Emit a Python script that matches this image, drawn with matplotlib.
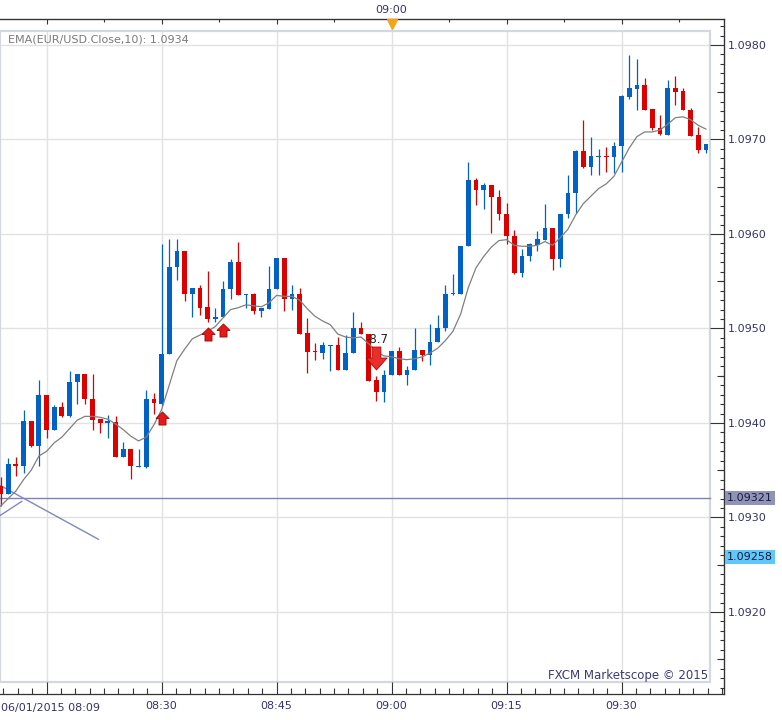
import numpy as np
import matplotlib
matplotlib.use('Agg')
import matplotlib.pyplot as plt
import matplotlib.transforms as mtransforms
from matplotlib.patches import Rectangle
from matplotlib.path import Path
from matplotlib.ticker import MultipleLocator, NullFormatter, StrMethodFormatter

# EUR/USD one-minute candles, 06/01/2015 08:09 .. 09:41 (x = minutes after 08:00)
first_minute = 9

opens = [1.09333, 1.09325, 1.09357, 1.09354, 1.09402, 1.09376, 1.09430, 1.09393, 1.09417, 1.09407,
         1.09443, 1.09452, 1.09425, 1.09404, 1.09400, 1.09401, 1.09364, 1.09372, 1.09353, 1.09353,
         1.09425, 1.09420, 1.09473, 1.09565, 1.09582, 1.09536, 1.09543, 1.09523, 1.09510, 1.09512,
         1.09542, 1.09570, 1.09535, 1.09537, 1.09518, 1.09521, 1.09542, 1.09575, 1.09531, 1.09537,
         1.09495, 1.09476, 1.09474, 1.09481, 1.09483, 1.09456, 1.09474, 1.09500, 1.09494, 1.09445,
         1.09433, 1.09451, 1.09476, 1.09451, 1.09456, 1.09477, 1.09472, 1.09486, 1.09500, 1.09536,
         1.09537, 1.09587, 1.09657, 1.09647, 1.09652, 1.09639, 1.09621, 1.09598, 1.09559, 1.09577,
         1.09588, 1.09594, 1.09606, 1.09574, 1.09621, 1.09643, 1.09688, 1.09671, 1.09681, 1.09683,
         1.09681, 1.09693, 1.09745, 1.09753, 1.09758, 1.09732, 1.09712, 1.09705, 1.09754, 1.09751,
         1.09731, 1.09705, 1.09689]
highs = [1.09343, 1.09363, 1.09364, 1.09414, 1.09402, 1.09446, 1.09430, 1.09419, 1.09422, 1.09455,
         1.09452, 1.09452, 1.09452, 1.09404, 1.09408, 1.09407, 1.09380, 1.09372, 1.09372, 1.09435,
         1.09432, 1.09589, 1.09595, 1.09595, 1.09582, 1.09543, 1.09546, 1.09561, 1.09522, 1.09550,
         1.09573, 1.09592, 1.09537, 1.09538, 1.09522, 1.09566, 1.09575, 1.09575, 1.09546, 1.09543,
         1.09511, 1.09485, 1.09486, 1.09483, 1.09491, 1.09493, 1.09517, 1.09507, 1.09494, 1.09450,
         1.09456, 1.09476, 1.09480, 1.09460, 1.09501, 1.09477, 1.09505, 1.09514, 1.09546, 1.09558,
         1.09587, 1.09676, 1.09659, 1.09654, 1.09652, 1.09647, 1.09633, 1.09604, 1.09584, 1.09590,
         1.09603, 1.09632, 1.09606, 1.09621, 1.09662, 1.09689, 1.09721, 1.09703, 1.09690, 1.09692,
         1.09697, 1.09747, 1.09789, 1.09785, 1.09765, 1.09732, 1.09726, 1.09763, 1.09767, 1.09754,
         1.09733, 1.09713, 1.09695]
lows = [1.09312, 1.09325, 1.09344, 1.09347, 1.09375, 1.09354, 1.09384, 1.09393, 1.09406, 1.09406,
        1.09420, 1.09420, 1.09393, 1.09389, 1.09384, 1.09364, 1.09364, 1.09341, 1.09353, 1.09352,
        1.09410, 1.09418, 1.09473, 1.09551, 1.09529, 1.09512, 1.09514, 1.09507, 1.09507, 1.09512,
        1.09531, 1.09535, 1.09522, 1.09515, 1.09512, 1.09521, 1.09542, 1.09518, 1.09520, 1.09494,
        1.09453, 1.09467, 1.09468, 1.09455, 1.09456, 1.09456, 1.09474, 1.09494, 1.09444, 1.09423,
        1.09422, 1.09451, 1.09451, 1.09440, 1.09456, 1.09466, 1.09461, 1.09486, 1.09497, 1.09535,
        1.09537, 1.09587, 1.09631, 1.09626, 1.09601, 1.09615, 1.09589, 1.09558, 1.09554, 1.09571,
        1.09582, 1.09594, 1.09562, 1.09565, 1.09617, 1.09622, 1.09670, 1.09662, 1.09662, 1.09666,
        1.09665, 1.09666, 1.09743, 1.09731, 1.09731, 1.09710, 1.09705, 1.09705, 1.09736, 1.09731,
        1.09704, 1.09686, 1.09686]
closes = [1.09325, 1.09357, 1.09354, 1.09402, 1.09376, 1.09430, 1.09393, 1.09417, 1.09407, 1.09443,
          1.09452, 1.09425, 1.09403, 1.09400, 1.09402, 1.09364, 1.09372, 1.09354, 1.09354, 1.09425,
          1.09421, 1.09473, 1.09565, 1.09582, 1.09536, 1.09543, 1.09522, 1.09510, 1.09512, 1.09542,
          1.09570, 1.09535, 1.09537, 1.09518, 1.09522, 1.09542, 1.09575, 1.09531, 1.09537, 1.09494,
          1.09475, 1.09475, 1.09483, 1.09483, 1.09456, 1.09474, 1.09500, 1.09494, 1.09444, 1.09433,
          1.09451, 1.09476, 1.09451, 1.09456, 1.09477, 1.09472, 1.09486, 1.09500, 1.09537, 1.09537,
          1.09587, 1.09657, 1.09647, 1.09652, 1.09639, 1.09621, 1.09598, 1.09559, 1.09577, 1.09589,
          1.09595, 1.09606, 1.09574, 1.09621, 1.09643, 1.09688, 1.09671, 1.09683, 1.09683, 1.09681,
          1.09693, 1.09746, 1.09755, 1.09758, 1.09731, 1.09712, 1.09706, 1.09754, 1.09750, 1.09731,
          1.09704, 1.09689, 1.09695]
ema10 = [1.09312, 1.09320, 1.09328, 1.09340, 1.09350, 1.09365, 1.09370, 1.09379, 1.09385, 1.09394,
         1.09403, 1.09407, 1.09407, 1.09406, 1.09404, 1.09399, 1.09393, 1.09386, 1.09381, 1.09385,
         1.09398, 1.09414, 1.09440, 1.09466, 1.09478, 1.09489, 1.09493, 1.09497, 1.09502, 1.09511,
         1.09520, 1.09522, 1.09525, 1.09524, 1.09523, 1.09527, 1.09535, 1.09534, 1.09534, 1.09530,
         1.09521, 1.09513, 1.09508, 1.09504, 1.09494, 1.09491, 1.09490, 1.09491, 1.09484, 1.09476,
         1.09471, 1.09470, 1.09468, 1.09467, 1.09468, 1.09470, 1.09474, 1.09479, 1.09487, 1.09497,
         1.09515, 1.09543, 1.09564, 1.09576, 1.09586, 1.09593, 1.09594, 1.09588, 1.09587, 1.09587,
         1.09588, 1.09592, 1.09588, 1.09596, 1.09605, 1.09620, 1.09632, 1.09640, 1.09648, 1.09653,
         1.09661, 1.09676, 1.09691, 1.09703, 1.09708, 1.09708, 1.09710, 1.09716, 1.09723, 1.09724,
         1.09721, 1.09715, 1.09711]

# signals
buy_minutes = [30, 36, 38]
buy_prices = [1.09405, 1.09494, 1.09498]
sell_minutes = [58]
sell_prices = [1.09469]
sell_text = '-8.7'
sell_text_price = 1.09488

# trend lines drawn on the chart
trend_a_minutes = [8.93, 11.76]
trend_a_prices = [1.09302, 1.09317]
trend_b_minutes = [8.93, 21.75]
trend_b_prices = [1.09334, 1.09277]

bid_price = 1.09321
ask_price = 1.09258
cursor_minute = 60

grid_minutes = [15, 30, 45, 60, 75, 90]
bottom_labels = ['', '08:30', '08:45', '09:00', '09:15', '09:30']
top_labels = ['', '', '', '09:00', '', '']
price_ticks = [1.0920, 1.0930, 1.0940, 1.0950, 1.0960, 1.0970, 1.0980]
half_ticks = [1.0915, 1.0925, 1.0935, 1.0945, 1.0955, 1.0965, 1.0975]

red = '#dc0000'
blue = '#0062c4'
label_color = '#33336e'
axis_color = '#333333'

opens = np.array(opens)
closes = np.array(closes)
minutes = first_minute + np.arange(len(opens))

fig = plt.figure(figsize=(7.82, 7.2), dpi=100)
ax = fig.add_axes([0.0, 26 / 720, 724 / 782, 675 / 720])
ax.set_xlim(8.93, 103.36)
ax.set_ylim(1.091132, 1.098275)

inner_right = 710 / 724
inner_top = (694 - 31) / 675
inner_bottom = 12 / 675

for m in grid_minutes:
    ax.axvline(m, ymin=inner_bottom, ymax=inner_top, color='#e2e2e2', lw=1, zorder=0)
for p in price_ticks:
    ax.axhline(p, xmin=0, xmax=inner_right, color='#e2e2e2', lw=1, zorder=0)
ax.add_patch(Rectangle((0, inner_bottom), inner_right, inner_top - inner_bottom,
                       transform=ax.transAxes, fill=False, ec='#d3d7df', lw=1.6, zorder=1))

# bid line and trend lines
ax.axhline(bid_price, xmin=0, xmax=inner_right, color='#7c82b8', lw=1, zorder=2)
ax.plot(trend_a_minutes, trend_a_prices, color='#8088c0', lw=1, zorder=2)
ax.plot(trend_b_minutes, trend_b_prices, color='#8088c0', lw=1, zorder=2)

# candles
up = closes >= opens
colors = np.where(up, blue, red)
ax.vlines(minutes, lows, highs, colors=colors, lw=0.9, zorder=3)
body_bottom = np.minimum(opens, closes)
body_height = np.maximum(np.abs(closes - opens), 0.000015)
ax.bar(minutes, body_height, bottom=body_bottom, width=0.62, color=colors, lw=0, zorder=4)

ax.plot(minutes, ema10, color='#808080', lw=0.9, zorder=5)

# signal arrows
up_arrow = Path([(-0.5, 0.0), (0.0, 0.5), (0.5, 0.0), (0.27, 0.0), (0.27, -0.5),
                 (-0.27, -0.5), (-0.27, 0.0), (-0.5, 0.0)])
down_arrow = Path([(-0.19, 0.5), (0.19, 0.5), (0.19, 0.02), (0.46, 0.02), (0.0, -0.5),
                   (-0.46, 0.02), (-0.19, 0.02), (-0.19, 0.5)])
ax.plot(buy_minutes, buy_prices, ls='none', marker=up_arrow, ms=9.4,
        mfc='#e21a1a', mec='#a80000', mew=0.6, zorder=6)
ax.plot(sell_minutes, sell_prices, ls='none', marker=down_arrow, ms=16.5,
        mfc='#e8302a', mec='#b00000', mew=0.6, zorder=6)
ax.text(sell_minutes[0] + 0.05, sell_text_price, sell_text, ha='center', va='center',
        fontsize=8.5, color='#202020', zorder=7)

# axes styling
ax.spines['left'].set_visible(False)
for side in ['top', 'bottom', 'right']:
    ax.spines[side].set_color(axis_color)
    ax.spines[side].set_linewidth(0.9)

ax.set_xticks(grid_minutes)
ax.set_xticklabels(bottom_labels)
ax.xaxis.set_minor_locator(MultipleLocator(1.875))
ax.tick_params(axis='x', which='major', direction='in', length=8.6, width=0.8,
               color=axis_color, pad=5, labelsize=8, labelcolor=label_color)
ax.tick_params(axis='x', which='minor', direction='in', length=4.3, width=0.8, color=axis_color)

ax.yaxis.tick_right()
ax.set_yticks(price_ticks)
ax.yaxis.set_major_formatter(StrMethodFormatter('{x:.4f}'))
ax.yaxis.set_minor_locator(MultipleLocator(0.0001))
ax.tick_params(axis='y', which='major', direction='in', length=10, width=0.8,
               color=axis_color, pad=3, labelsize=8, labelcolor=label_color)
ax.tick_params(axis='y', which='minor', direction='in', length=3, width=0.8, color=axis_color)

mid = ax.secondary_yaxis('right')
mid.set_yticks(half_ticks)
mid.yaxis.set_major_formatter(NullFormatter())
mid.tick_params(direction='in', length=5, width=0.8, color=axis_color)
mid.spines['right'].set_color(axis_color)

top = ax.secondary_xaxis('top')
top.set_xticks(grid_minutes)
top.set_xticklabels(top_labels)
top.xaxis.set_minor_locator(MultipleLocator(7.5))
top.tick_params(which='major', direction='in', length=3.6, width=0.8, color=axis_color,
                pad=3, labelsize=8, labelcolor=label_color)
top.tick_params(which='minor', direction='in', length=2.2, width=0.8, color=axis_color)
top.spines['top'].set_color(axis_color)

trans = mtransforms.blended_transform_factory(ax.transData, ax.transAxes)
ax.plot([cursor_minute], [1 - 4.5 / 675], marker='v', ms=6.5, color='#f7a21b',
        transform=trans, clip_on=False, zorder=8)

# price boxes on the right scale
ptrans = mtransforms.blended_transform_factory(ax.transAxes, ax.transData)
ax.text(1 + 3 / 724, bid_price, '1.09321', transform=ptrans, ha='left', va='center',
        fontsize=8, color='#1a1a40', clip_on=False,
        bbox=dict(boxstyle='square,pad=0.18', fc='#8f93b5', ec='none'))
ax.text(1 + 3 / 724, ask_price, '1.09258', transform=ptrans, ha='left', va='center',
        fontsize=8, color='#1a1a40', clip_on=False,
        bbox=dict(boxstyle='square,pad=0.18', fc='#5ec8f8', ec='none'))

ax.text(8 / 724, (694 - 40) / 675, 'EMA(EUR/USD.Close,10): 1.0934', transform=ax.transAxes,
        ha='left', va='center', fontsize=8, color='#7a7a7a')
ax.text(708 / 724, (694 - 675) / 675, 'FXCM Marketscope © 2015', transform=ax.transAxes,
        ha='right', va='center', fontsize=8.5, color='#3a3a78')
fig.text(1 / 782, (720 - 708) / 720, '06/01/2015 08:09', ha='left', va='center',
         fontsize=8, color=label_color)

fig.savefig('out.png', dpi=100)
